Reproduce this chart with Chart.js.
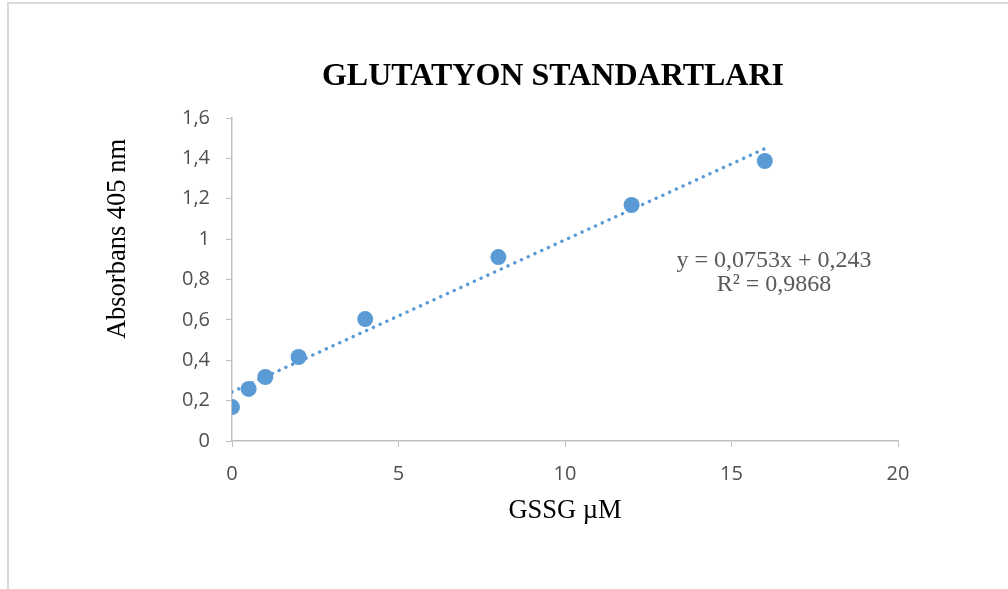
<!DOCTYPE html>
<html>
<head>
<meta charset="utf-8">
<script src="https://cdn.jsdelivr.net/npm/chart.js@4"></script>
<style>
html,body{margin:0;padding:0;background:#fff;}
canvas{display:block;}
</style>
</head>
<body>
<canvas id="c" width="1008" height="589"></canvas>
<script>
const concentrations = [0, 0.5, 1, 2, 4, 8, 12, 16];
const absorbances = [0.168, 0.258, 0.317, 0.416, 0.604, 0.911, 1.169, 1.387];
const trendX = [0, 16];
const trendY = [0.243, 1.448];
const yTickLabels = ['0', '0,2', '0,4', '0,6', '0,8', '1', '1,2', '1,4', '1,6'];
const xTickLabels = ['0', '5', '10', '15', '20'];
const chartTitle = 'GLUTATYON STANDARTLARI';
const xTitle = 'GSSG µM';
const yTitle = 'Absorbans 405 nm';
const equationLines = ['y = 0,0753x + 0,243', 'R² = 0,9868'];

const blue = '#5B9BD5';
const axisGray = '#BFBFBF';
const tickGray = '#505050';

const textPlugin = {
  id: 'texts',
  afterDraw(chart) {
    const ctx = chart.ctx;
    const a = chart.chartArea;
    ctx.save();
    // outer frame (top and left)
    ctx.strokeStyle = '#D9D9D9';
    ctx.lineWidth = 2;
    ctx.beginPath();
    ctx.moveTo(8, 589);
    ctx.lineTo(8, 3);
    ctx.lineTo(1008, 3);
    ctx.stroke();
    // title
    ctx.fillStyle = '#000';
    ctx.textAlign = 'center';
    ctx.textBaseline = 'middle';
    ctx.font = 'bold 32px "Liberation Serif"';
    ctx.fillText(chartTitle, 553, 77);
    // x title
    ctx.font = '26.5px "Liberation Serif"';
    ctx.fillText(xTitle, (a.left + a.right) / 2, 511);
    // y title
    ctx.save();
    ctx.translate(118, 239);
    ctx.rotate(-Math.PI / 2);
    ctx.fillText(yTitle, 0, 0);
    ctx.restore();
    // equation
    ctx.fillStyle = '#595959';
    ctx.font = '24px "Liberation Serif"';
    ctx.fillText(equationLines[0], 774, 261);
    ctx.fillText(equationLines[1], 774, 285);
    ctx.restore();
  }
};

new Chart(document.getElementById('c'), {
  type: 'scatter',
  data: {
    datasets: [
      {
        label: 'points',
        data: concentrations.map((x, i) => ({ x: x, y: absorbances[i] })),
        backgroundColor: blue,
        borderColor: blue,
        pointRadius: 8,
        pointHoverRadius: 8,
        borderWidth: 0
      },
      {
        type: 'line',
        label: 'trend',
        data: trendX.map((x, i) => ({ x: x, y: trendY[i] })),
        borderColor: blue,
        borderWidth: 3.4,
        borderCapStyle: 'round',
        borderDash: [0.1, 7.3],
        pointRadius: 0,
        fill: false,
        tension: 0
      }
    ]
  },
  options: {
    responsive: false,
    animation: false,
    events: [],
    layout: { padding: { left: 0, top: 118, right: 110, bottom: 0 } },
    plugins: { legend: { display: false }, title: { display: false }, tooltip: { enabled: false } },
    scales: {
      x: {
        type: 'linear',
        min: 0, max: 20,
        afterFit(s) { s.height = 148; },
        afterBuildTicks(s) { s.ticks = xTickLabels.map((t, i) => ({ value: i * 5 })); },
        ticks: {
          padding: 15,
          color: tickGray,
          font: { family: '"Open Sans"', size: 20 },
          callback: (v, i) => xTickLabels[i]
        },
        grid: { drawOnChartArea: false, drawTicks: true, tickLength: 6, color: axisGray, lineWidth: 1 },
        border: { color: axisGray, width: 1.5 }
      },
      y: {
        type: 'linear',
        min: 0, max: 1.6,
        afterFit(s) { s.width = 232; },
        afterBuildTicks(s) { s.ticks = yTickLabels.map((t, i) => ({ value: i * 0.2 })); },
        ticks: {
          padding: 16,
          color: tickGray,
          font: { family: '"Open Sans"', size: 20 },
          callback: (v, i) => yTickLabels[i]
        },
        grid: { drawOnChartArea: false, drawTicks: true, tickLength: 6, color: axisGray, lineWidth: 1 },
        border: { color: axisGray, width: 1.5 }
      }
    }
  },
  plugins: [textPlugin]
});
</script>
</body>
</html>
